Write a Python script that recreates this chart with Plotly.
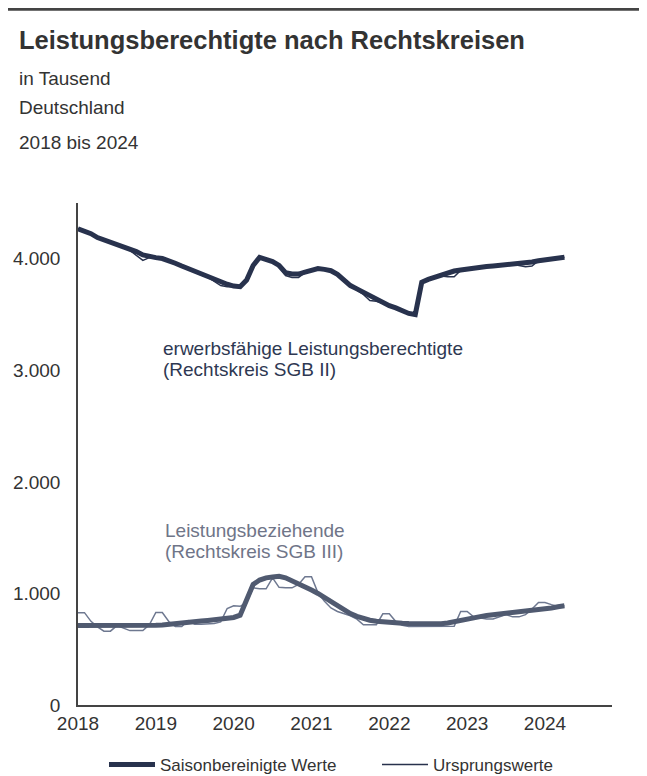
import plotly.graph_objects as go
import numpy as np

# monthly values, Jan 2018 - Apr 2024, in thousand
sgb2_sa = [
    4268, 4250, 4225, 4190, 4170, 4150, 4130, 4110, 4090, 4065, 4035, 4020,
    4010, 4002, 3985, 3960, 3935, 3910, 3885, 3860, 3840, 3815, 3790, 3772,
    3755, 3750, 3810, 3940, 4013, 3995, 3975, 3940, 3875, 3863, 3863, 3880,
    3900, 3912, 3905, 3893, 3860, 3810, 3760, 3730, 3700, 3670, 3640, 3605,
    3580, 3560, 3535, 3510, 3500, 3790, 3815, 3835, 3850, 3870, 3890, 3900,
    3910, 3918, 3925, 3930, 3935, 3940, 3945, 3950, 3955, 3962, 3972, 3982,
    3988, 3995, 4005, 4013,
]
sgb2_orig = [
    4272, 4258, 4232, 4195, 4168, 4148, 4128, 4105, 4075, 4030, 3985, 4010,
    4005, 4005, 3990, 3962, 3935, 3908, 3880, 3855, 3835, 3800, 3760, 3750,
    3752, 3750, 3810, 3950, 4015, 3995, 3970, 3930, 3850, 3833, 3833, 3875,
    3905, 3920, 3910, 3890, 3855, 3805, 3755, 3720, 3680, 3625, 3620, 3600,
    3580, 3560, 3535, 3510, 3500, 3785, 3820, 3835, 3845, 3839, 3839, 3895,
    3915, 3920, 3925, 3930, 3935, 3940, 3945, 3950, 3940, 3929, 3935, 3982,
    3990, 3995, 4005, 4013,
]
sgb3_sa = [
    712, 712, 712, 712, 710, 708, 708, 706, 706, 708, 710, 712,
    715, 718, 722, 728, 733, 738, 745, 752, 758, 764, 770, 778,
    785, 805, 940, 1080, 1120, 1140, 1148, 1153, 1140, 1115, 1090, 1060,
    1030, 1000, 965, 920, 885, 850, 820, 795, 775, 760, 750, 743,
    740, 736, 732, 730, 728, 728, 728, 728, 728, 735, 748, 762,
    772, 782, 792, 802, 808, 815, 822, 828, 830, 835, 845, 855,
    863, 870, 880, 889,
]
sgb3_orig = [
    828, 828, 750, 700, 662, 662, 712, 690, 667, 667, 667, 719,
    829, 829, 748, 704, 704, 757, 724, 724, 724, 730, 745, 865,
    889, 885, 920, 1050, 1042, 1042, 1140, 1055, 1050, 1050, 1080, 1150,
    1150, 1006, 930, 870, 838, 820, 800, 770, 719, 719, 719, 817,
    817, 748, 715, 704, 704, 704, 704, 704, 704, 700, 705, 838,
    838, 790, 778, 772, 772, 790, 810, 790, 790, 810, 860, 919,
    919, 900, 883, 889,
]
year_ticks = [2018, 2019, 2020, 2021, 2022, 2023, 2024]
y_ticks = [0, 1000, 2000, 3000, 4000]
y_labels = ["0", "1.000", "2.000", "3.000", "4.000"]

months = 2018 + np.arange(len(sgb2_sa)) / 12

NAVY = "#28324d"
GREY_THICK = "#505a70"
GREY_THIN = "#6e7890"
TEXT = "#333333"
FONT = "Liberation Sans, Arial, sans-serif"

# figure sits inside the page body (8px default margin)
OFF = 8
W, H = 639, 768
L, R, T, B = 70, 35, 195, 71
pw, ph = W - L - R, H - T - B


def px(x):
    # page pixel -> paper x
    return (x - OFF - L) / pw


def py(y):
    # page pixel -> paper y
    return (H - B - (y - OFF)) / ph


fig = go.Figure()

fig.add_trace(go.Scatter(x=months, y=sgb3_orig, mode="lines", showlegend=False,
                         line=dict(color=GREY_THIN, width=1.5)))
fig.add_trace(go.Scatter(x=months, y=sgb3_sa, mode="lines", showlegend=False,
                         line=dict(color=GREY_THICK, width=5)))
fig.add_trace(go.Scatter(x=months, y=sgb2_orig, mode="lines", name="Ursprungswerte",
                         line=dict(color=NAVY, width=1.5), legend="legend2"))
fig.add_trace(go.Scatter(x=months, y=sgb2_sa, mode="lines", name="Saisonbereinigte Werte",
                         line=dict(color=NAVY, width=5), legend="legend"))

annotations = [
    dict(x=px(17), y=py(40), text="<b>Leistungsberechtigte nach Rechtskreisen</b>",
         font=dict(size=25.5, color=TEXT)),
    dict(x=px(17), y=py(78), text="in Tausend", font=dict(size=19, color=TEXT)),
    dict(x=px(17), y=py(108), text="Deutschland", font=dict(size=19, color=TEXT)),
    dict(x=px(17), y=py(142), text="2018 bis 2024", font=dict(size=19, color=TEXT)),
    dict(x=px(161), y=py(348), text="erwerbsfähige Leistungsberechtigte",
         font=dict(size=19, color="#2e3852")),
    dict(x=px(161), y=py(369), text="(Rechtskreis SGB II)",
         font=dict(size=19, color="#2e3852")),
    dict(x=px(163), y=py(530), text="Leistungsbeziehende",
         font=dict(size=19, color="#6f7588")),
    dict(x=px(163), y=py(551), text="(Rechtskreis SGB III)",
         font=dict(size=19, color="#6f7588")),
]
for a in annotations:
    a.update(xref="paper", yref="paper", xanchor="left", yanchor="middle",
             showarrow=False, align="left")

legend_style = dict(orientation="h", yanchor="middle", xanchor="left", itemwidth=46,
                    font=dict(size=17, color=TEXT), bgcolor="rgba(0,0,0,0)")

fig.update_layout(
    width=W, height=H,
    margin=dict(l=L, r=R, t=T, b=B, autoexpand=False),
    paper_bgcolor="white",
    plot_bgcolor="white",
    font=dict(family=FONT, size=19, color=TEXT),
    annotations=annotations,
    shapes=[dict(type="line", xref="paper", yref="paper",
                 x0=px(7), x1=px(647), y0=py(9.3), y1=py(9.3),
                 line=dict(color="#444444", width=3))],
    legend=dict(x=px(104), y=py(765), **legend_style),
    legend2=dict(x=px(377), y=py(765), **legend_style),
)

fig.update_xaxes(range=[2018, 2024 + 67 / 77.8], tickvals=year_ticks,
                 ticktext=[str(t) for t in year_ticks],
                 showgrid=False, zeroline=False, showline=True,
                 linecolor="#444444", linewidth=1.5, ticks="", ticklabelstandoff=0)
fig.update_yaxes(range=[0, 4500], tickvals=y_ticks, ticktext=y_labels,
                 showgrid=False, zeroline=False, showline=True,
                 linecolor="#444444", linewidth=1.5, ticks="", ticklabelstandoff=12)

fig.write_html("out.html")
